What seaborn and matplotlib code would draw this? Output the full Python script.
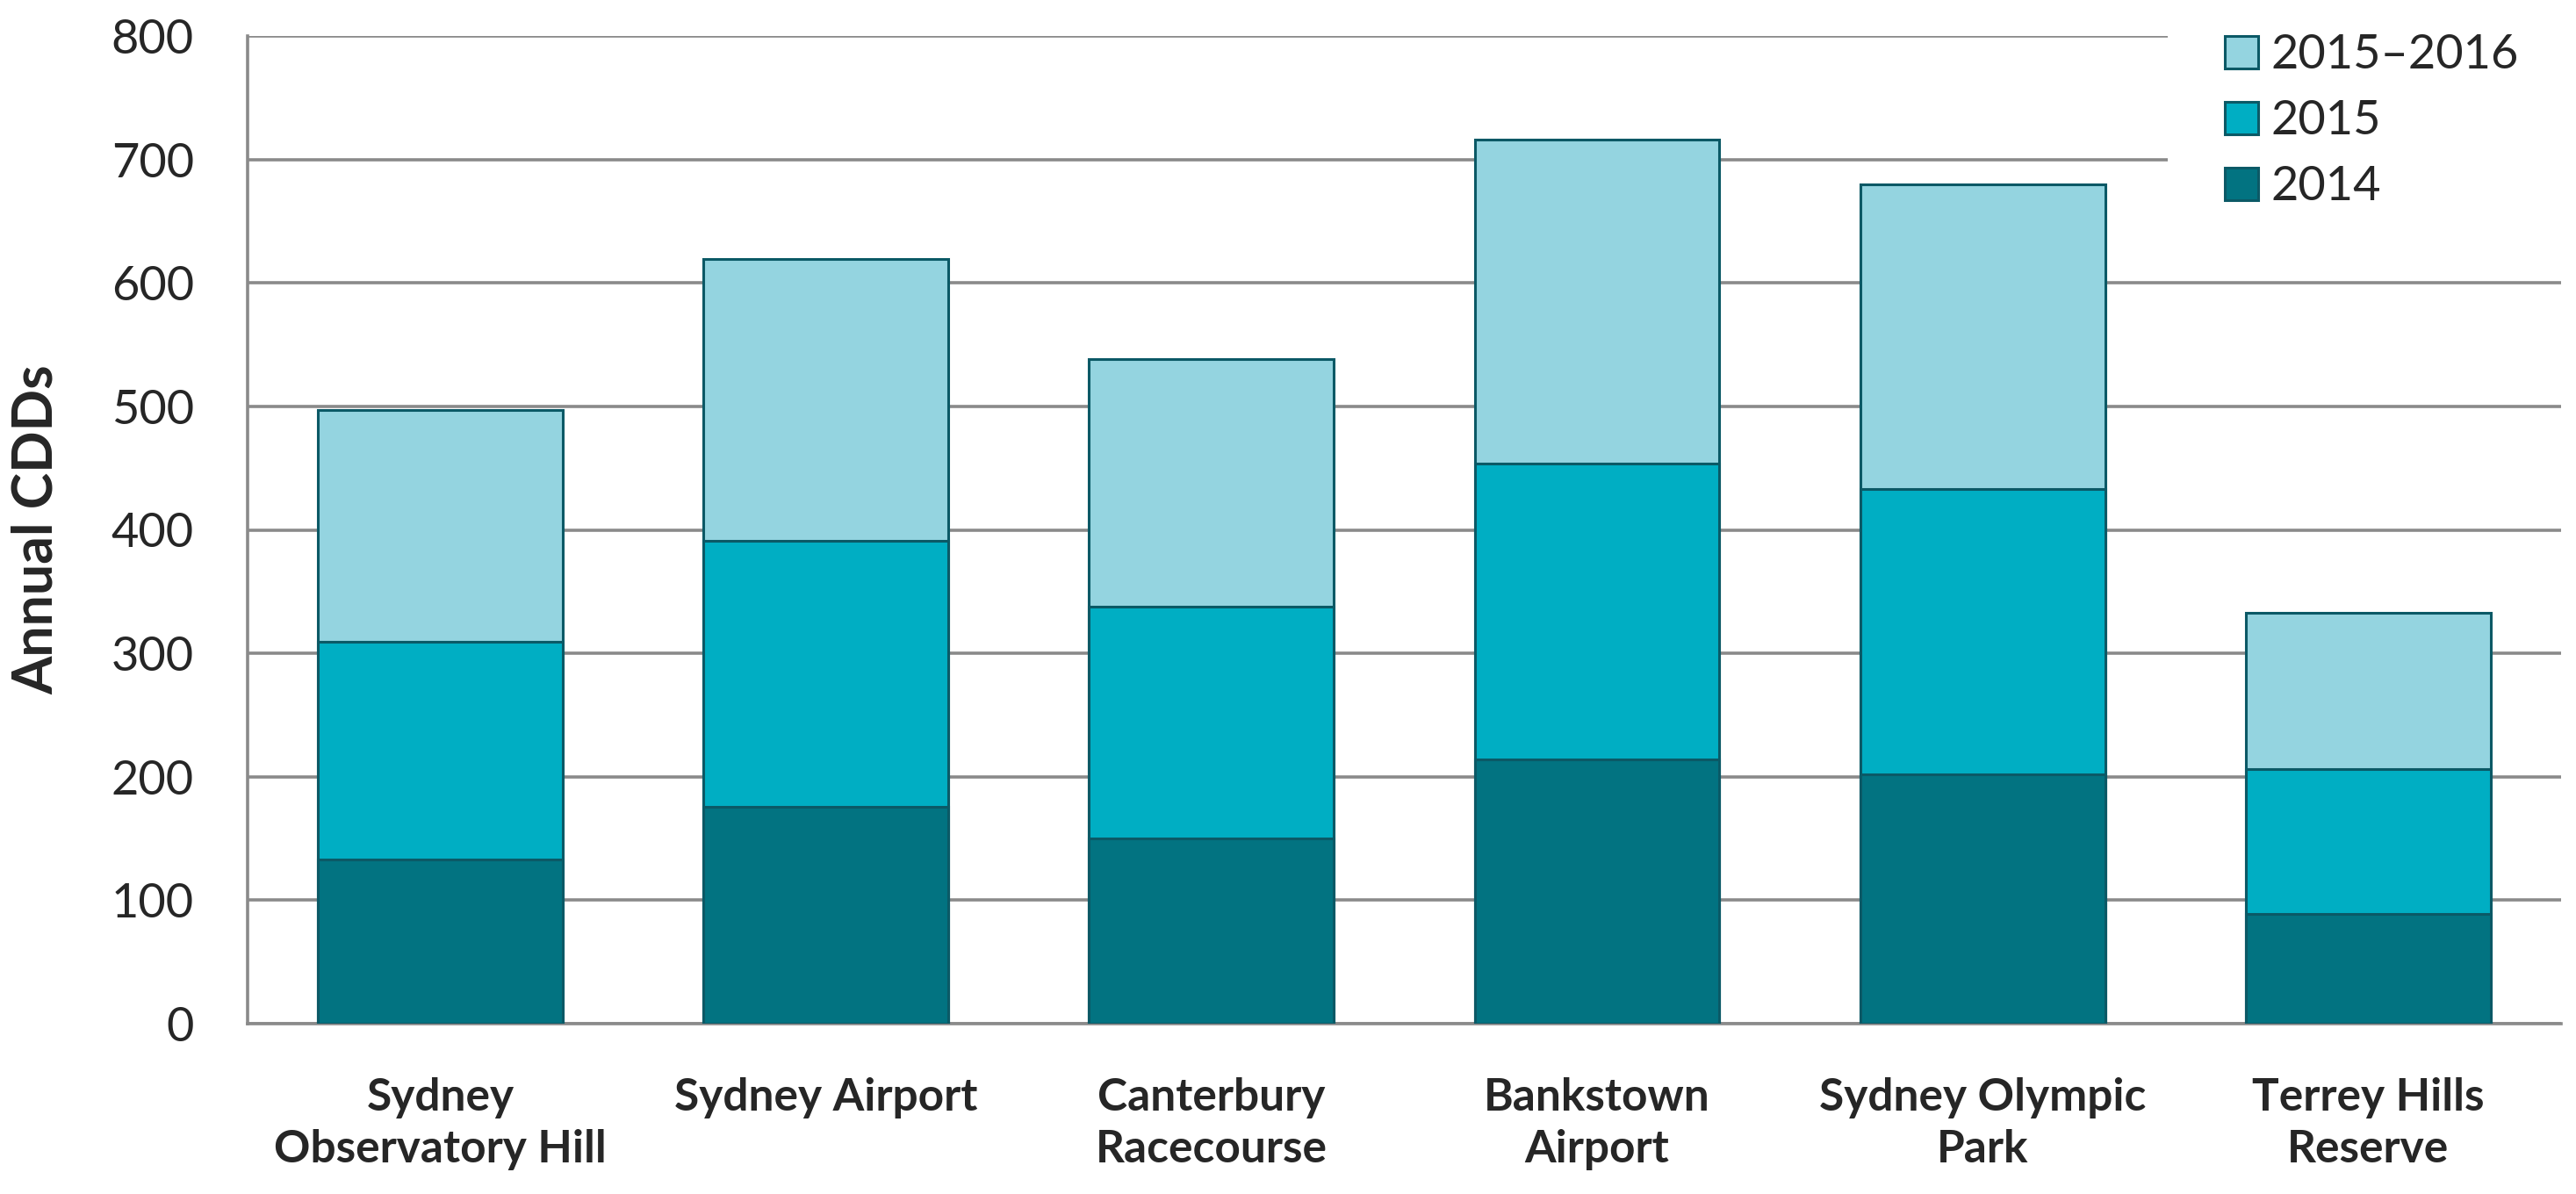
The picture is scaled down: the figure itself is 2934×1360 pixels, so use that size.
import pandas as pd
import matplotlib
matplotlib.use('Agg')
import matplotlib.pyplot as plt
import seaborn as sns

sns.set_style('white')
plt.rcParams['font.family'] = ['Lato', 'DejaVu Sans']

# values (overlapping bars, drawn tallest first)
stations = ['Sydney\nObservatory Hill', 'Sydney Airport', 'Canterbury\nRacecourse',
            'Bankstown\nAirport', 'Sydney Olympic\nPark', 'Terrey Hills\nReserve']
cdd_2015_2016 = [497, 619, 538, 716, 680, 333]
cdd_2015 = [309, 391, 338, 454, 433, 206]
cdd_2014 = [133, 176, 150, 214, 202, 89]
periods = ['2015\u20132016', '2015', '2014']
colors = ['#94D4E0', '#00AEC3', '#027381']

df = pd.DataFrame({
    'Station': stations * 3,
    'Period': [periods[0]] * 6 + [periods[1]] * 6 + [periods[2]] * 6,
    'CDD': cdd_2015_2016 + cdd_2015 + cdd_2014,
})

fig = plt.figure(figsize=(29.34, 13.6), dpi=100)
ax = fig.add_axes([0.0961, 0.1426, 0.8981, 0.8273])

sns.barplot(data=df, x='Station', y='CDD', hue='Period', hue_order=periods,
            palette=dict(zip(periods, colors)), saturation=1, dodge=False,
            width=0.635, edgecolor='#0B5966', linewidth=2.2, ax=ax, zorder=3)

ax.set_ylim(0, 800)
ax.set_xlim(-0.5, 5.5)
ax.set_yticks(range(0, 801, 100))
ax.yaxis.grid(True, color='#8A8A8A', linewidth=2.6, zorder=0)
ax.set_axisbelow(True)
for side in ['top', 'right']:
    ax.spines[side].set_visible(False)
for side in ['left', 'bottom']:
    ax.spines[side].set_color('#8A8A8A')
    ax.spines[side].set_linewidth(2.6)

ax.tick_params(axis='y', length=0, pad=44, labelsize=39)
ax.tick_params(axis='x', length=0, pad=44, labelsize=37)
for lbl in ax.get_xticklabels():
    lbl.set_fontweight('bold')
    lbl.set_linespacing(1.3)
    lbl.set_verticalalignment('top')

ax.set_xlabel('')
ax.set_ylabel('Annual CDDs', fontsize=45, fontweight='bold')
ax.yaxis.set_label_coords(-0.08, 0.5)

handles, labels = ax.get_legend_handles_labels()
leg = ax.legend(handles, labels, loc='upper right', bbox_to_anchor=(1.0065, 1.06),
                fontsize=39, frameon=True, facecolor='white', edgecolor='none',
                framealpha=1, handlelength=0.7, handleheight=0.7,
                handletextpad=0.28, labelspacing=0.48, borderpad=1.2,
                borderaxespad=0)
leg.get_frame().set_clip_on(False)
for h in leg.get_patches():
    h.set_edgecolor('#0B5966')
    h.set_linewidth(2.2)
leg.set_zorder(5)

fig.savefig('out.png', dpi=100)
